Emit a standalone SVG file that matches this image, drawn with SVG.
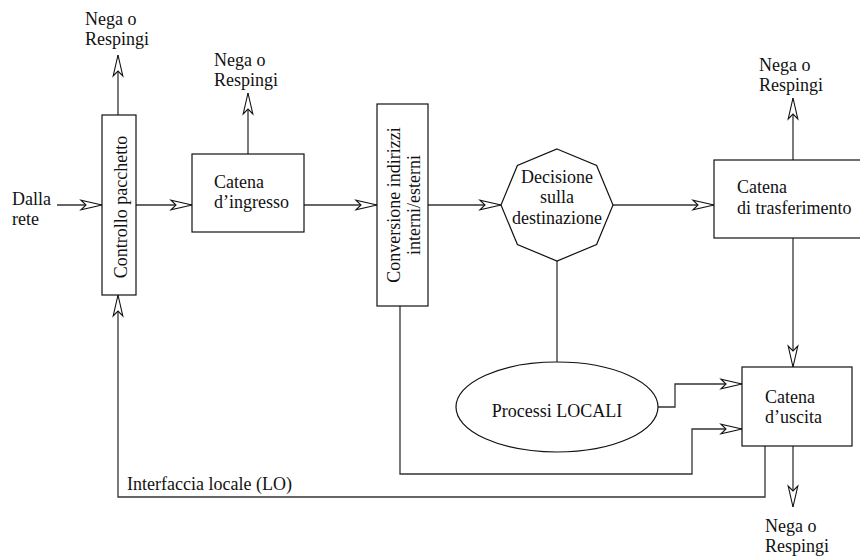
<svg xmlns="http://www.w3.org/2000/svg" width="860" height="557" viewBox="0 0 860 557">
<defs>
<marker id="arr" markerUnits="userSpaceOnUse" orient="auto" overflow="visible" markerWidth="24" markerHeight="12">
<path d="M0,0 L-21,-4.8 L-16,0 L-21,4.8 Z" fill="#fff" stroke="#111" stroke-width="1.1" stroke-linejoin="miter"/>
</marker>
</defs>
<style>
text{font-family:"Liberation Serif","Times New Roman",serif;font-size:18px;fill:#111}
.b{fill:#fff;stroke:#111;stroke-width:1.2}
.c{fill:none;stroke:#333;stroke-width:1.3}
.m{text-anchor:middle}
</style>
<rect width="860" height="557" fill="#fff"/>
<g id="connectors">
<path class="c" d="M57,205 H102" marker-end="url(#arr)"/>
<path class="c" d="M136,205 H192" marker-end="url(#arr)"/>
<path class="c" d="M304,205 H377" marker-end="url(#arr)"/>
<path class="c" d="M428,205 H501" marker-end="url(#arr)"/>
<path class="c" d="M613,205 H714" marker-end="url(#arr)"/>
<path class="c" d="M118,115 V55" marker-end="url(#arr)"/>
<path class="c" d="M248,154 V93" marker-end="url(#arr)"/>
<path class="c" d="M793,160 V98" marker-end="url(#arr)"/>
<path class="c" d="M793,238 V367" marker-end="url(#arr)"/>
<path class="c" d="M793,446 V507" marker-end="url(#arr)"/>
<path class="c" d="M557,261 V362"/>
<path class="c" d="M658,407 H675 V384 H742" marker-end="url(#arr)"/>
<path class="c" d="M400,306 V474 H692 V429 H742" marker-end="url(#arr)"/>
<path class="c" d="M765,446 V497 H118 V295" marker-end="url(#arr)"/>
</g>
<g id="labels">
<text x="85" y="25">Nega o</text>
<text x="85" y="45">Respingi</text>
<text x="214" y="66">Nega o</text>
<text x="214" y="86">Respingi</text>
<text x="759" y="71">Nega o</text>
<text x="759" y="91">Respingi</text>
<text x="765" y="532">Nega o</text>
<text x="765" y="552">Respingi</text>
<text x="12" y="205">Dalla</text>
<text x="12" y="225">rete</text>
<text x="127" y="490">Interfaccia locale (LO)</text>
</g>
<g id="controllo">
<rect class="b" x="102" y="115" width="34" height="180"/>
<text class="m" transform="translate(127,207) rotate(-90)">Controllo pacchetto</text>
</g>
<g id="ingresso">
<rect class="b" x="192" y="154" width="112" height="78"/>
<text x="214" y="188">Catena</text>
<text x="214" y="208">d’ingresso</text>
</g>
<g id="conversione">
<rect class="b" x="377" y="104" width="51" height="202"/>
<text class="m" transform="translate(400,205) rotate(-90)">Conversione indirizzi</text>
<text class="m" transform="translate(420,205) rotate(-90)">interni/esterni</text>
</g>
<g id="decisione">
<polygon class="b" points="557,149 596.6,165.4 613,205 596.6,244.6 557,261 517.4,244.6 501,205 517.4,165.4"/>
<text class="m" x="557" y="183">Decisione</text>
<text class="m" x="557" y="203">sulla</text>
<text class="m" x="557" y="224">destinazione</text>
</g>
<g id="trasferimento">
<rect class="b" x="714" y="160" width="150" height="78"/>
<text x="737" y="193">Catena</text>
<text x="737" y="214">di trasferimento</text>
</g>
<g id="processi">
<ellipse class="b" cx="557" cy="407" rx="101" ry="45"/>
<text class="m" x="557" y="417">Processi LOCALI</text>
</g>
<g id="uscita">
<rect class="b" x="742" y="367" width="110" height="79"/>
<text x="765" y="403">Catena</text>
<text x="765" y="423">d’uscita</text>
</g>
</svg>
